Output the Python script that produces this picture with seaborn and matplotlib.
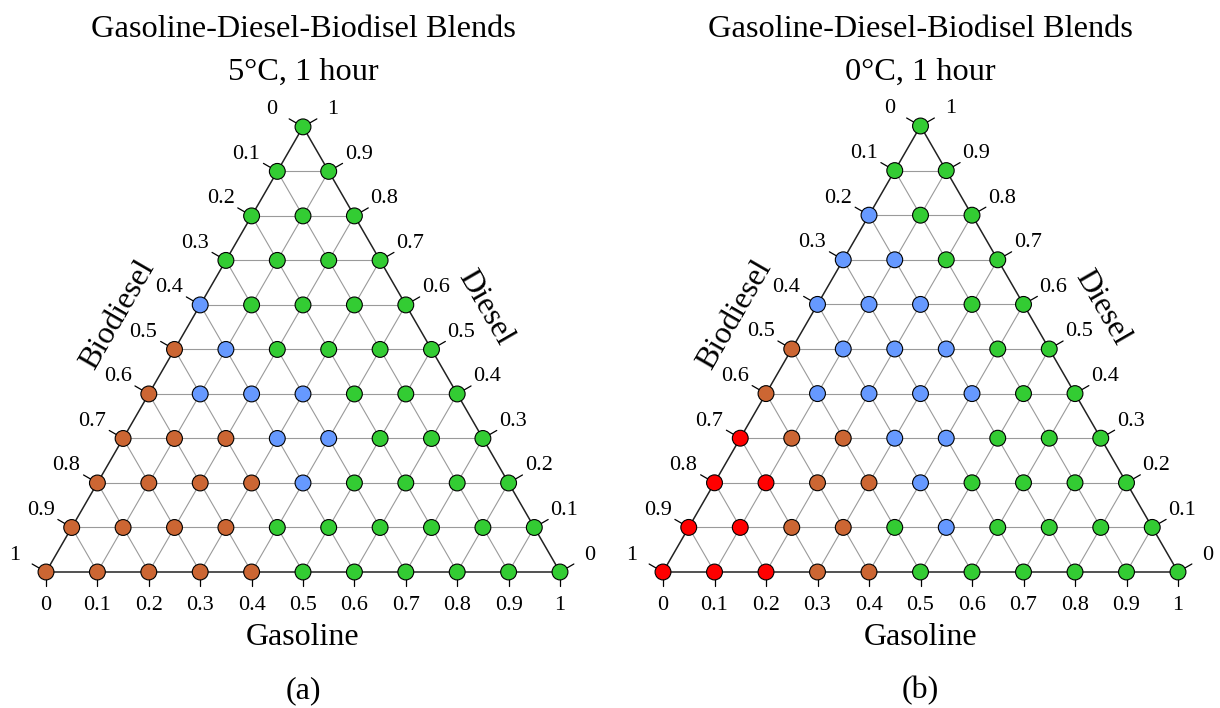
import numpy as np
import pandas as pd
import matplotlib
matplotlib.use("Agg")
import matplotlib.pyplot as plt
import seaborn as sns

sns.set_theme(style="white")
plt.rcParams['font.family'] = ['Liberation Serif', 'DejaVu Serif']
plt.rcParams['text.color'] = 'black'

# ---------------- data ----------------
title_line1 = "Gasoline-Diesel-Biodisel Blends"
conditions = ["5°C, 1 hour", "0°C, 1 hour"]
captions = ["(a)", "(b)"]
axis_names = ["Gasoline", "Diesel", "Biodiesel"]
tick_labels = ["0", "0.1", "0.2", "0.3", "0.4", "0.5", "0.6", "0.7", "0.8", "0.9", "1"]

# state of each blend; row k = diesel fraction k/10,
# entries ordered by gasoline fraction 0, 0.1, ... (1 - diesel)
# G = green, L = blue, B = brown, R = red
states_5C = ["BBBBBGGGGGG",
             "BBBBGGGGGG",
             "BBBBLGGGG",
             "BBBLLGGG",
             "BLLLGGG",
             "BLGGGG",
             "LGGGG",
             "GGGG",
             "GGG",
             "GG",
             "G"]
states_0C = ["RRRBBGGGGGG",
             "RRBBGLGGGG",
             "RRBBLGGGG",
             "RBBLLGGG",
             "BLLLLGG",
             "BLLLGG",
             "LLLGG",
             "LLGG",
             "LGG",
             "GG",
             "G"]
palette = {"G": "#33CC33", "L": "#6699FF", "B": "#CC6633", "R": "#FF0000"}

# ---------------- layout (pixels) ----------------
W, H = 1220, 708
panels = [dict(states=states_5C, ox=46, oy=572, s=514, px0=0, px1=610),
          dict(states=states_0C, ox=663, oy=572, s=515, px0=610, px1=1220)]
R3 = np.sqrt(3) / 2


def to_xy(g, d):
    return g + d / 2.0, d * R3


fig = plt.figure(figsize=(W / 100, H / 100), dpi=100)

for i, p in enumerate(panels):
    ox, oy, s = p["ox"], p["oy"], p["s"]
    ax = fig.add_axes([p["px0"] / W, 0, (p["px1"] - p["px0"]) / W, 1])
    ax.set_xlim((p["px0"] - ox) / s, (p["px1"] - ox) / s)
    ax.set_ylim((oy - H) / s, oy / s)
    ax.axis("off")

    def P(px, py):
        return (px - ox) / s, (oy - py) / s

    n = len(tick_labels) - 1
    # grid lines
    for k in range(1, n):
        f = k / n
        a, b = to_xy(0, f), to_xy(1 - f, f)
        ax.plot([a[0], b[0]], [a[1], b[1]], color="#9a9a9a", lw=0.8, zorder=1)
        a, b = to_xy(f, 0), to_xy(f, 1 - f)
        ax.plot([a[0], b[0]], [a[1], b[1]], color="#9a9a9a", lw=0.8, zorder=1)
        a, b = to_xy(0, 1 - f), to_xy(1 - f, 0)
        ax.plot([a[0], b[0]], [a[1], b[1]], color="#9a9a9a", lw=0.8, zorder=1)
    # border
    c = [to_xy(0, 0), to_xy(1, 0), to_xy(0, 1), to_xy(0, 0)]
    ax.plot([q[0] for q in c], [q[1] for q in c], color="#222222", lw=1.1, zorder=2)

    # ticks and tick labels
    tl = 16 / s
    cx, sy = np.cos(np.pi / 6), np.sin(np.pi / 6)
    fs_t = 16
    for k in range(n + 1):
        f = k / n
        x, y = to_xy(f, 0)
        ax.plot([x, x], [y, y - 14 / s], color="black", lw=0.9, zorder=2)
        ax.text(x, y - 34 / s, tick_labels[k], ha="center", va="center", fontsize=fs_t)
        x, y = to_xy(0, f)
        ax.plot([x, x - tl * cx], [y, y + tl * sy], color="black", lw=0.9, zorder=2)
        ax.text(x - 31 / s, y + 17 / s, tick_labels[n - k], ha="center", va="center", fontsize=fs_t)
        x, y = to_xy(1 - f, f)
        ax.plot([x, x + tl * cx], [y, y + tl * sy], color="black", lw=0.9, zorder=2)
        ax.text(x + 30 / s, y + 17 / s, tick_labels[k], ha="center", va="center", fontsize=fs_t)

    # points
    rows = []
    for k, row in enumerate(p["states"]):
        for j, st in enumerate(row):
            x, y = to_xy(j / n, k / n)
            rows.append(dict(x=x, y=y, state=st))
    df = pd.DataFrame(rows)
    sns.scatterplot(data=df, x="x", y="y", hue="state", palette=palette, s=130,
                    edgecolor="black", linewidth=0.8, legend=False, ax=ax, zorder=3)
    ax.set_xlabel("")
    ax.set_ylabel("")
    ax.set_xlim((p["px0"] - ox) / s, (p["px1"] - ox) / s)
    ax.set_ylim((oy - H) / s, oy / s)

    cxp = ox + 0.5 * s
    ax.text(*P(cxp, 37), title_line1, ha="center", va="baseline", fontsize=23.3)
    ax.text(*P(cxp, 80), conditions[i], ha="center", va="baseline", fontsize=23.3)
    ax.text(*P(cxp, 645), axis_names[0], ha="center", va="baseline", fontsize=23)
    ax.text(*P(ox + 439, 308), axis_names[1], ha="center", va="center", fontsize=23,
            rotation=-60, rotation_mode="anchor")
    ax.text(*P(ox + 72, 315), axis_names[2], ha="center", va="center", fontsize=23,
            rotation=60, rotation_mode="anchor")
    ax.text(*P(cxp, 691), captions[i], ha="center", va="center", fontsize=23)

fig.savefig("out.png", dpi=100, facecolor="white")
